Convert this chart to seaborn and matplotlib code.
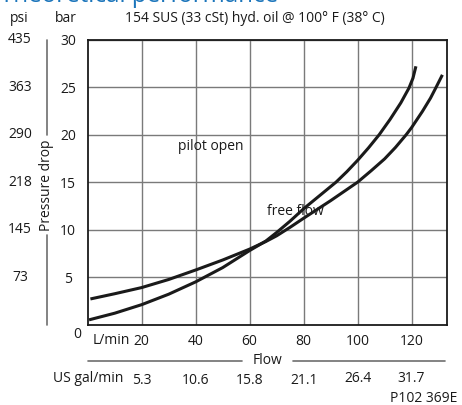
import numpy as np
import pandas as pd
import matplotlib
matplotlib.use('Agg')
import matplotlib.pyplot as plt
import matplotlib.transforms as mtransforms
import seaborn as sns

# Curve: starts high, ends lower (right-most curve)
flow_a = [1, 10, 20, 30, 40, 50, 60, 66, 70, 75, 80, 90, 100, 105, 110, 114,
          118, 120, 124, 127, 129, 131.4]
dp_a = [2.7, 3.25, 3.9, 4.75, 5.75, 6.8, 7.95, 8.75, 9.35, 10.25, 11.2, 13.05,
        15.0, 16.2, 17.45, 18.65, 20.0, 20.75, 22.45, 23.85, 24.95, 26.3]

# Curve that starts low and ends steep
flow_b = [0.5, 10, 20, 30, 40, 50, 60, 66, 70, 75, 80, 86, 92, 96, 100, 104,
          108, 112, 116, 119, 120.5, 121.6]
dp_b = [0.5, 1.2, 2.1, 3.2, 4.5, 6.0, 7.8, 8.8, 9.7, 10.9, 12.2, 13.6, 15.0,
        16.1, 17.3, 18.6, 20.0, 21.6, 23.35, 24.9, 25.95, 27.2]

bar_ticks = [5, 10, 15, 20, 25, 30]
psi_labels = ['73', '145', '218', '290', '363', '435']
lmin_ticks = [20, 40, 60, 80, 100, 120]
gal_labels = ['5.3', '10.6', '15.8', '21.1', '26.4', '31.7']
gal_dy = [0, 0, 1, 1, 3, 3]  # small vertical offsets as in the original print

sns.set_theme(style='white')
plt.rcParams['font.family'] = ['Open Sans', 'DejaVu Sans']

W, H = 462, 405
fig = plt.figure(figsize=(W / 100, H / 100), dpi=100)
ax = fig.add_axes([87.7 / W, 1 - 324.6 / H, (446.7 - 87.7) / W, (324.6 - 39.7) / H])

df = pd.concat([
    pd.DataFrame({'flow': flow_a, 'dp': dp_a, 'curve': 'a'}),
    pd.DataFrame({'flow': flow_b, 'dp': dp_b, 'curve': 'b'}),
])
sns.lineplot(data=df, x='flow', y='dp', units='curve', estimator=None,
             color='#1a1a1a', lw=2.2, sort=False, ax=ax)
for ln in ax.lines:
    ln.set_solid_joinstyle('round')
    ln.set_solid_capstyle('butt')

ax.set_xlim(0, 133)
ax.set_ylim(0, 30)
ax.set_xticks(lmin_ticks)
ax.set_yticks(bar_ticks)
ax.grid(True, color='#7a7a7a', lw=1.0)
ax.set_axisbelow(True)
for s in ax.spines.values():
    s.set_color('#1a1a1a')
    s.set_linewidth(1.3)
ax.set_xlabel('')
ax.set_ylabel('')
ax.tick_params(axis='both', length=0, labelsize=10, colors='#1a1a1a')
ax.tick_params(axis='x', pad=7)
ax.tick_params(axis='y', pad=14)
for lab in ax.get_yticklabels():
    lab.set_horizontalalignment('center')

ax.text(45.7, 18.8, 'pilot open', fontsize=10, color='#1a1a1a', ha='center', va='center')
ax.text(77, 11.9, 'free flow', fontsize=10, color='#1a1a1a', ha='center', va='center')

px = lambda x, y: (x / W, 1 - y / H)
tc = '#1a1a1a'

# title, cut off at the top
fig.text(*px(0, 2), 'Theoretical performance', fontsize=17.4, color='#1b75bb',
         ha='left', va='baseline')

fig.text(*px(19, 19), 'psi', fontsize=10, color=tc, ha='center', va='center')
fig.text(*px(66, 19), 'bar', fontsize=10, color=tc, ha='center', va='center')
fig.text(*px(255, 18), '154 SUS (33 cSt) hyd. oil @ 100° F (38° C)', fontsize=10,
         color=tc, ha='center', va='center')

# psi scale
trans_y = mtransforms.blended_transform_factory(fig.transFigure, ax.transData)
for v, lab in zip(bar_ticks, psi_labels):
    fig.text(20 / W, v, lab, transform=trans_y, fontsize=10, color=tc,
             ha='center', va='center')
fig.text(*px(77, 334), '0', fontsize=10, color=tc, ha='center', va='center')

# Pressure drop label with side lines
fig.add_artist(plt.Line2D([47 / W, 47 / W], [1 - 40 / H, 1 - 135 / H],
                          color='#6e6e6e', lw=1.2))
fig.add_artist(plt.Line2D([47 / W, 47 / W], [1 - 235 / H, 1 - 325 / H],
                          color='#6e6e6e', lw=1.2))
fig.text(*px(46, 185), 'Pressure drop', fontsize=10, color=tc, rotation=90,
         ha='center', va='center')

# Flow axis label with side lines
fig.text(*px(111, 341), 'L/min', fontsize=10, color=tc, ha='center', va='center')
fig.add_artist(plt.Line2D([88 / W, 242 / W], [1 - 360.5 / H] * 2, color='#6e6e6e', lw=1.2))
fig.add_artist(plt.Line2D([293 / W, 445 / W], [1 - 360.5 / H] * 2, color='#6e6e6e', lw=1.2))
fig.text(*px(267, 360), 'Flow', fontsize=10, color=tc, ha='center', va='center')

# US gal/min scale
fig.text(*px(88, 379), 'US gal/min', fontsize=10, color=tc, ha='center', va='center')
trans_x = mtransforms.blended_transform_factory(ax.transData, fig.transFigure)
for v, lab, dy in zip(lmin_ticks, gal_labels, gal_dy):
    fig.text(v, 1 - (381 - dy) / H, lab, transform=trans_x, fontsize=10, color=tc,
             ha='center', va='center')

fig.text(*px(424, 398), 'P102 369E', fontsize=10, color=tc, ha='center', va='center')

fig.savefig('out.png', dpi=100)
